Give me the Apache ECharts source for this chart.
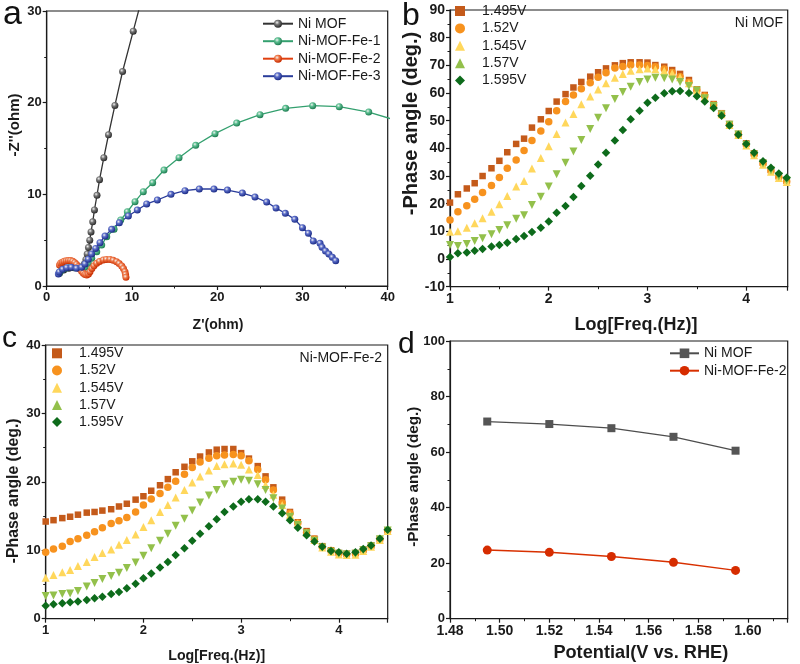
<!DOCTYPE html>
<html><head><meta charset="utf-8">
<script src="https://cdn.jsdelivr.net/npm/echarts@6/dist/echarts.min.js"></script>
<style>html,body{margin:0;padding:0;background:#fff}#c{width:800px;height:664px}</style>
</head><body><div id="c"></div>
<script>
// ---------- Panel a: Nyquist plots [Z', -Z''] ----------
const nyqNiMOF = [[1.5,1.4],[2.0,1.75],[2.6,1.95],[3.2,2.0],[3.7,2.0],[4.1,2.1],[4.4,2.4],[4.6,2.9],[4.75,3.5],[4.9,4.2],[5.05,5.0],[5.2,5.9],[5.4,7.0],[5.6,8.3],[5.9,9.9],[6.2,11.6],[6.7,14.0],[7.25,16.5],[8.0,19.7],[8.9,23.4],[10.15,27.8],[11.4,32.2]];
const nyqFe1 = [[1.45,1.4],[1.7,1.7],[2.2,1.95],[2.8,2.1],[3.4,2.0],[4.0,1.9],[4.49,2.04],[4.88,2.47],[5.28,3.02],[5.87,3.74],[6.45,4.47],[7.04,5.38],[7.9,6.18],[8.68,7.2],[9.46,8.1],[10.36,9.2],[11.33,10.29],[12.43,11.27],[13.76,12.65],[15.52,14.0],[17.48,15.35],[19.74,16.62],[22.29,17.78],[25.02,18.69],[28.03,19.38],[31.2,19.67],[34.32,19.56],[37.77,18.98],[41.6,17.9]];
const nyqFe2 = [[1.5,2.3],[1.65,2.5],[1.85,2.6],[2.05,2.7],[2.3,2.75],[2.55,2.78],[2.8,2.78],[3.05,2.7],[3.3,2.55],[3.5,2.35],[3.7,2.1],[3.9,1.85],[4.1,1.6],[4.3,1.4],[4.5,1.25],[4.7,1.2],[4.9,1.3],[5.08,1.56],[5.3,1.9],[5.55,2.2],[5.86,2.47],[6.2,2.68],[6.64,2.84],[7.0,2.9],[7.43,2.9],[7.8,2.8],[8.2,2.65],[8.5,2.45],[8.8,2.18],[9.0,1.9],[9.18,1.56],[9.25,1.25],[9.3,0.95]];
const nyqFe3 = [[1.37,1.31],[1.48,1.53],[1.87,1.82],[2.35,2.0],[2.9,2.04],[3.5,1.93],[4.1,2.04],[4.49,2.4],[4.88,2.91],[5.27,3.49],[5.74,4.1],[6.25,4.72],[6.84,5.45],[7.62,6.18],[8.52,6.9],[9.58,7.64],[10.63,8.29],[11.73,8.95],[12.98,9.38],[14.58,10.0],[16.22,10.4],[17.9,10.58],[19.62,10.58],[21.2,10.47],[22.95,10.14],[24.43,9.71],[25.8,9.16],[26.9,8.5],[27.99,7.93],[29.1,7.27],[30.0,6.36],[30.7,5.75],[31.27,4.91],[32.06,4.66],[32.3,4.22],[32.7,3.82],[33.1,3.49],[33.5,3.13],[33.9,2.76]];

// ---------- Panel b: Bode phase, Ni MOF ----------
const logFreqB = [1.00,1.08,1.17,1.25,1.33,1.42,1.50,1.58,1.67,1.75,1.83,1.92,2.00,2.08,2.17,2.25,2.33,2.42,2.50,2.58,2.67,2.75,2.83,2.92,3.00,3.08,3.17,3.25,3.33,3.42,3.50,3.58,3.67,3.75,3.83,3.92,4.00,4.08,4.17,4.25,4.33,4.41];
const phaseB1495 = [20.4,23.4,25.5,27.4,30.0,32.8,35.5,38.6,41.6,43.5,47.5,50.5,53.5,56.9,59.6,62.0,64.0,65.9,67.5,68.9,70.0,70.8,71.1,71.1,71.0,70.1,69.5,68.3,66.9,64.7,61.3,59.3,56.0,52.7,48.8,45.2,41.8,38.2,34.8,32.2,30.0,28.3];
const phaseB152 = [14.1,17.1,19.3,21.6,24.0,26.6,29.5,32.8,35.8,39.2,42.8,46.3,49.6,53.6,56.9,59.3,61.5,63.7,65.7,67.3,69.0,69.6,70.1,70.1,69.9,69.5,68.7,67.4,65.9,63.9,61.1,58.9,55.7,52.5,48.6,45.0,41.4,37.8,34.4,31.8,29.6,28.0];
const phaseB1545 = [9.9,10.0,11.3,12.9,14.7,17.1,19.8,22.8,26.2,28.2,32.7,36.5,40.8,45.2,49.3,52.4,55.9,58.7,61.3,63.5,65.5,66.9,68.0,68.6,68.9,68.6,68.0,67.1,65.7,63.5,60.9,58.5,55.5,52.3,48.4,44.8,41.0,37.5,34.1,31.5,29.3,27.8];
const phaseB157 = [5.1,4.7,5.4,6.5,7.5,9.0,10.5,12.2,14.6,15.8,19.5,22.5,26.2,30.6,34.8,38.9,43.0,47.0,51.1,54.5,57.8,60.4,62.3,64.0,64.9,65.5,65.3,64.9,64.0,62.5,60.9,58.1,55.3,52.2,48.5,45.0,41.3,37.8,34.5,32.0,29.8,28.3];
const phaseB1595 = [0.7,2.05,2.4,3.0,3.6,4.5,5.1,5.9,7.2,8.3,9.8,11.3,13.6,16.75,19.2,22.4,26.4,30.1,34.2,38.4,42.8,46.6,50.5,53.6,56.5,58.3,59.9,60.6,60.7,60.0,58.8,56.9,54.6,51.8,48.3,44.9,41.6,38.4,35.3,33.0,30.9,29.4];

// ---------- Panel c: Bode phase, Ni-MOF-Fe-2 ----------
const logFreqC = [1.00,1.08,1.17,1.25,1.33,1.42,1.50,1.58,1.67,1.75,1.83,1.92,2.00,2.08,2.17,2.25,2.33,2.42,2.50,2.58,2.67,2.75,2.83,2.92,3.00,3.08,3.17,3.25,3.33,3.42,3.50,3.58,3.67,3.75,3.83,3.92,4.00,4.08,4.17,4.25,4.33,4.42,4.50];
const phaseC1495 = [14.2,14.4,14.7,14.9,15.2,15.5,15.6,15.8,16.0,16.4,16.8,17.4,17.9,18.7,19.5,20.4,21.4,22.2,23.0,23.7,24.3,24.7,24.8,24.8,24.2,23.4,22.3,20.8,19.2,17.4,15.6,14.1,12.8,11.7,10.6,10.0,9.6,9.5,9.6,10.1,10.7,11.6,12.9];
const phaseC152 = [9.7,10.2,10.6,11.3,11.7,12.2,12.7,13.3,13.9,14.3,14.8,15.6,16.6,17.5,18.3,19.2,20.1,21.1,22.1,22.9,23.45,23.8,23.94,23.99,23.8,23.1,21.8,20.3,18.8,16.9,15.4,14.0,12.6,11.6,10.5,9.95,9.55,9.4,9.5,10.0,10.6,11.6,12.9];
const phaseC1545 = [6.0,6.4,6.8,7.1,7.7,8.3,9.0,9.6,10.1,10.8,11.5,12.3,13.4,14.4,15.6,16.6,17.7,18.8,19.9,20.8,21.65,22.3,22.57,22.7,22.5,21.8,21.0,19.55,18.1,16.6,15.2,13.9,12.6,11.5,10.4,9.8,9.4,9.3,9.35,9.9,10.5,11.5,12.8];
const phaseC157 = [3.3,3.4,3.6,3.7,4.05,4.7,5.2,5.8,6.25,6.7,7.4,8.2,9.2,10.3,11.4,12.4,13.6,14.6,15.8,17.0,18.0,18.8,19.65,20.0,20.3,20.15,19.65,18.8,17.6,16.1,14.9,13.7,12.5,11.4,10.4,9.8,9.5,9.4,9.5,10.0,10.6,11.6,12.9];
const phaseC1595 = [1.9,2.1,2.25,2.4,2.5,2.75,3.0,3.2,3.6,3.9,4.45,5.1,5.9,6.6,7.5,8.3,9.3,10.3,11.4,12.4,13.5,14.55,15.6,16.4,17.1,17.45,17.45,17.1,16.4,15.4,14.4,13.3,12.2,11.3,10.5,9.9,9.7,9.5,9.7,10.2,10.7,11.7,13.0];

// ---------- Panel d: peak phase angle vs potential ----------
const potentials = [1.495,1.52,1.545,1.57,1.595];
const peakNiMOF = [71.0,70.1,68.6,65.5,60.5];
const peakFe2 = [24.7,23.9,22.4,20.3,17.4];

const voltLabels = ['1.495V','1.52V','1.545V','1.57V','1.595V'];

// ---------- styling ----------
const FONT = '"Liberation Sans", Arial, Helvetica, sans-serif';
const INK = '#1a1a1a';
const zip = (xs, ys) => xs.map((x, i) => [x, ys[i]]);
function sphere(dark, mid) {
  return {type:'radial', x:0.38, y:0.35, r:0.65, colorStops:[
    {offset:0, color:'#f2f2f2'}, {offset:0.4, color:mid}, {offset:1, color:dark}]};
}
function axis(extra, labelSize) {
  return Object.assign({
    type:'value',
    axisLine:{show:true, onZero:false, lineStyle:{color:INK, width:1.2}},
    axisTick:{show:true, inside:false, length:4, lineStyle:{color:INK, width:1.2}},
    minorTick:{show:true, splitNumber:2, length:2.5, lineStyle:{color:INK, width:1}},
    splitLine:{show:false},
    axisLabel:{fontFamily:FONT, fontWeight:'bold', fontSize:labelSize, color:INK, margin:5}
  }, extra);
}
function lbl(size, extra) {
  return Object.assign({fontFamily:FONT, fontWeight:'bold', fontSize:size, color:INK, margin:5}, extra || {});
}
const voltColors = ['#c45a1a','#f7921e','#ffd75c','#93c04b','#0d6b1b'];
const voltSymbols = ['rect','circle','triangle','triangle','diamond'];
const voltRot = [0,0,0,180,0];
const voltSizes = [6.5,7.5,8,8,8.5];

const series = [];
// panel a
const aDefs = [
  ['Ni MOF', nyqNiMOF, '#333333', sphere('#2b2b2b','#777')],
  ['Ni-MOF-Fe-1', nyqFe1, '#34a06f', sphere('#1f7d52','#5cbf91')],
  ['Ni-MOF-Fe-2', nyqFe2, '#e0400f', sphere('#c82d00','#f07a4a')],
  ['Ni-MOF-Fe-3', nyqFe3, '#2a3c9a', sphere('#1c2c86','#5a6cc8')]
];
aDefs.forEach(d => series.push({
  name:d[0], type:'line', xAxisIndex:0, yAxisIndex:0, data:d[1],
  symbol:'circle', symbolSize:7, showSymbol:true, clip:true,
  lineStyle:{color:d[2], width:1.3}, itemStyle:{color:d[3]}
}));
// panel b
const bData = [phaseB1495, phaseB152, phaseB1545, phaseB157, phaseB1595];
bData.forEach((ys, i) => series.push({
  name:voltLabels[i], type:'scatter', xAxisIndex:1, yAxisIndex:1, data:zip(logFreqB, ys),
  symbol:voltSymbols[i], symbolRotate:voltRot[i], symbolSize:voltSizes[i],
  itemStyle:{color:voltColors[i], opacity:1}
}));
// panel c
const cData = [phaseC1495, phaseC152, phaseC1545, phaseC157, phaseC1595];
cData.forEach((ys, i) => series.push({
  name:'c:' + voltLabels[i], type:'scatter', xAxisIndex:2, yAxisIndex:2, data:zip(logFreqC, ys),
  symbol:voltSymbols[i], symbolRotate:voltRot[i], symbolSize:voltSizes[i],
  itemStyle:{color:voltColors[i], opacity:1}
}));
// panel d
series.push({name:'d:Ni MOF', type:'line', xAxisIndex:3, yAxisIndex:3, data:zip(potentials, peakNiMOF),
  symbol:'rect', symbolSize:8, lineStyle:{color:'#4d4d4d', width:1.3}, itemStyle:{color:'#555555'}});
series.push({name:'d:Ni-MOF-Fe-2', type:'line', xAxisIndex:3, yAxisIndex:3, data:zip(potentials, peakFe2),
  symbol:'circle', symbolSize:9, lineStyle:{color:'#d83000', width:1.5}, itemStyle:{color:'#d62c00'}});

const legendText = {fontFamily:FONT, fontSize:14, color:INK, lineHeight:14};
const legendTextPad = {fontFamily:FONT, fontSize:14, color:INK, lineHeight:14, padding:[0,0,0,12]};
const strip = n => n.replace(/^[cd]:/, '');

function title(text, x, y, size, vertical) {
  return {type:'text', x:x, y:y, rotation: vertical ? Math.PI/2 : 0,
    style:{text:text, font:'bold ' + size + 'px ' + FONT, fill:INK, align:'center', verticalAlign:'middle'}};
}
function letter(text, x, y, size) {
  return {type:'text', x:x, y:y, style:{text:text, font:size + 'px ' + FONT, fill:'#111', align:'left', verticalAlign:'middle'}};
}

const option = {
  animation:false,
  backgroundColor:'#ffffff',
  grid:[
    {left:46.7, top:11, width:341, height:275, show:true, borderColor:INK, borderWidth:1.2},
    {left:450, top:10, width:337.7, height:276.7, show:true, borderColor:INK, borderWidth:1.2},
    {left:45.7, top:345, width:342, height:273.7, show:true, borderColor:INK, borderWidth:1.2},
    {left:450, top:341, width:337.7, height:277.7, show:true, borderColor:INK, borderWidth:1.2}
  ],
  xAxis:[
    axis({gridIndex:0, min:0, max:40, interval:10}, 13),
    axis({gridIndex:1, min:1, max:4.42, interval:1, axisLabel:lbl(14, {showMaxLabel:false})}),
    axis({gridIndex:2, min:1, max:4.5, interval:1, axisLabel:lbl(13, {showMaxLabel:false})}),
    axis({gridIndex:3, min:1.48, max:1.616, interval:0.02,
      axisLabel:lbl(14, {showMaxLabel:false, formatter:v => Number(v).toFixed(2)})})
  ],
  yAxis:[
    axis({gridIndex:0, min:0, max:30, interval:10}, 13),
    axis({gridIndex:1, min:-10, max:90, interval:10}, 14),
    axis({gridIndex:2, min:0, max:40, interval:10}, 13),
    axis({gridIndex:3, min:0, max:100, interval:20}, 13)
  ],
  legend:[
    {data:['Ni MOF','Ni-MOF-Fe-1','Ni-MOF-Fe-2','Ni-MOF-Fe-3'], orient:'vertical', left:262, top:16.7, padding:0,
     itemWidth:30, itemHeight:10, itemGap:3.5, textStyle:legendText, selectedMode:false},
    {data:voltLabels, orient:'vertical', left:455, top:4, padding:0, itemWidth:10, itemHeight:10, itemGap:3.4,
     textStyle:legendTextPad, selectedMode:false},
    {data:voltLabels.map(v => 'c:' + v), orient:'vertical', left:52, top:346.3, padding:0, itemWidth:10, itemHeight:10, itemGap:3.2,
     textStyle:legendTextPad, formatter:strip, selectedMode:false},
    {data:['d:Ni MOF','d:Ni-MOF-Fe-2'], orient:'vertical', left:669, top:346.3, padding:0, itemWidth:29, itemHeight:12, itemGap:3.4,
     textStyle:legendText, formatter:strip, selectedMode:false}
  ],
  graphic:[
    letter('a', 3, 15, 34),
    letter('b', 402, 16, 32),
    letter('c', 2, 339, 30),
    letter('d', 398, 345, 30),
    {type:'text', x:783, y:23, style:{text:'Ni MOF', font:'14px ' + FONT, fill:INK, align:'right', verticalAlign:'middle'}},
    {type:'text', x:382, y:358, style:{text:'Ni-MOF-Fe-2', font:'14px ' + FONT, fill:INK, align:'right', verticalAlign:'middle'}},
    title("Z'(ohm)", 218, 325, 14, false),
    title("-Z''(ohm)", 15, 125, 15, true),
    title('Log[Freq.(Hz)]', 636, 325, 18, false),
    title('-Phase angle (deg.)', 411.7, 123.5, 20, true),
    title('Log[Freq.(Hz)]', 216.7, 656, 14.2, false),
    title('-Phase angle (deg.)', 13.3, 490.8, 15.8, true),
    title('Potential(V vs. RHE)', 640.8, 653, 18.2, false),
    title('-Phase angle (deg.)', 413.3, 476.7, 15.3, true)
  ],
  series:series
};
const chart = echarts.init(document.getElementById('c'), null, {renderer:'canvas'});
chart.setOption(option);
</script></body></html>
